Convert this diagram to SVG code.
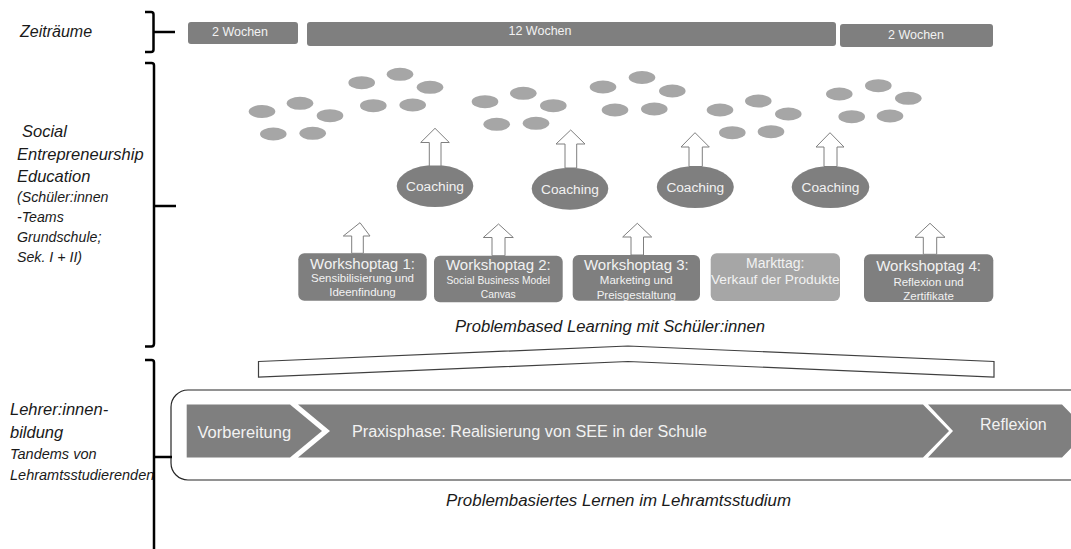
<svg xmlns="http://www.w3.org/2000/svg" width="1071" height="549" viewBox="0 0 1071 549">
<style>
.lbl{font-family:"Liberation Sans",Arial,sans-serif;font-style:italic;fill:#1a1a1a}
.wt{font-family:"Liberation Sans",Arial,sans-serif;fill:#f2f2f2}
.bar{fill:#7f7f7f}
.dot{fill:#a6a6a6}
.dk{fill:#7f7f7f}
.lt{fill:#a6a6a6}
.barr{fill:#ffffff;stroke:#7f7f7f;stroke-width:1}
.brk{fill:none;stroke:#000;stroke-width:2.5;stroke-linejoin:round}
</style>
<rect width="1071" height="549" fill="#ffffff"/>

<!-- left labels -->
<g id="label-zeitraeume">
<text class="lbl" x="20" y="37" font-size="16">Zeiträume</text>
</g>
<g id="label-see">
<text class="lbl" x="22" y="137" font-size="16.5">Social</text>
<text class="lbl" x="17" y="160" font-size="16.5">Entrepreneurship</text>
<text class="lbl" x="17" y="182" font-size="16.5">Education</text>
<text class="lbl" x="17" y="202" font-size="14.2">(Schüler:innen</text>
<text class="lbl" x="17" y="222" font-size="14.2">-Teams</text>
<text class="lbl" x="17" y="242" font-size="14.2">Grundschule;</text>
<text class="lbl" x="17" y="262" font-size="14.2">Sek. I + II)</text>
</g>
<g id="label-lehrer">
<text class="lbl" x="10" y="415" font-size="16.5">Lehrer:innen-</text>
<text class="lbl" x="10" y="438" font-size="16.5">bildung</text>
<text class="lbl" x="10" y="459" font-size="14.5">Tandems von</text>
<text class="lbl" x="10" y="480" font-size="14.5">Lehramtsstudierenden</text>
</g>

<!-- time bars -->
<g id="bar-1">
<rect class="bar" x="188" y="22" width="110" height="22" rx="3"/>
<text class="wt" x="240" y="36" font-size="12.5" text-anchor="middle">2 Wochen</text>
</g>
<g id="bar-2">
<rect class="bar" x="307" y="22" width="529" height="24" rx="3"/>
<text class="wt" x="540" y="35" font-size="12.5" text-anchor="middle">12 Wochen</text>
</g>
<g id="bar-3">
<rect class="bar" x="840" y="24" width="153" height="23" rx="3"/>
<text class="wt" x="916" y="39" font-size="12.5" text-anchor="middle">2 Wochen</text>
</g>

<!-- team clusters -->
<g id="teams-1">
<ellipse class="dot" cx="262" cy="111.5" rx="13.3" ry="6.5"/>
<ellipse class="dot" cx="300" cy="103.3" rx="13.3" ry="6.5"/>
<ellipse class="dot" cx="330" cy="115.7" rx="13.3" ry="6.5"/>
<ellipse class="dot" cx="273.3" cy="134" rx="13.3" ry="6.5"/>
<ellipse class="dot" cx="312.7" cy="133.3" rx="13.3" ry="6.5"/>
</g>
<g id="teams-2">
<ellipse class="dot" cx="361.7" cy="82.7" rx="13.3" ry="6.5"/>
<ellipse class="dot" cx="400" cy="74.3" rx="13.3" ry="6.5"/>
<ellipse class="dot" cx="430" cy="87.3" rx="13.3" ry="6.5"/>
<ellipse class="dot" cx="373.3" cy="105.7" rx="13.3" ry="6.5"/>
<ellipse class="dot" cx="412.7" cy="105" rx="13.3" ry="6.5"/>
</g>
<g id="teams-3">
<ellipse class="dot" cx="485" cy="101.7" rx="13.3" ry="6.5"/>
<ellipse class="dot" cx="523.3" cy="93.3" rx="13.3" ry="6.5"/>
<ellipse class="dot" cx="553.3" cy="105.7" rx="13.3" ry="6.5"/>
<ellipse class="dot" cx="496.7" cy="124.3" rx="13.3" ry="6.5"/>
<ellipse class="dot" cx="536" cy="123.3" rx="13.3" ry="6.5"/>
</g>
<g id="teams-4">
<ellipse class="dot" cx="603" cy="87" rx="13.3" ry="6.5"/>
<ellipse class="dot" cx="642" cy="77.5" rx="13.3" ry="6.5"/>
<ellipse class="dot" cx="672.3" cy="91" rx="13.3" ry="6.5"/>
<ellipse class="dot" cx="615" cy="110" rx="13.3" ry="6.5"/>
<ellipse class="dot" cx="654.3" cy="109" rx="13.3" ry="6.5"/>
</g>
<g id="teams-5">
<ellipse class="dot" cx="720" cy="110" rx="13.3" ry="6.5"/>
<ellipse class="dot" cx="758.3" cy="101" rx="13.3" ry="6.5"/>
<ellipse class="dot" cx="788.3" cy="114" rx="13.3" ry="6.5"/>
<ellipse class="dot" cx="732.3" cy="132.7" rx="13.3" ry="6.5"/>
<ellipse class="dot" cx="771" cy="131.7" rx="13.3" ry="6.5"/>
</g>
<g id="teams-6">
<ellipse class="dot" cx="839.3" cy="94" rx="13.3" ry="6.5"/>
<ellipse class="dot" cx="878.3" cy="85.7" rx="13.3" ry="6.5"/>
<ellipse class="dot" cx="908.3" cy="98.3" rx="13.3" ry="6.5"/>
<ellipse class="dot" cx="851.7" cy="116.7" rx="13.3" ry="6.5"/>
<ellipse class="dot" cx="890" cy="116" rx="13.3" ry="6.5"/>
</g>

<!-- coaching -->
<g id="coaching-1">
<ellipse class="dk" cx="435" cy="186" rx="38.3" ry="21"/>
<text class="wt" x="435" y="191" font-size="13.7" text-anchor="middle">Coaching</text>
</g>
<g id="coaching-2">
<ellipse class="dk" cx="570" cy="188.7" rx="38.3" ry="21"/>
<text class="wt" x="570" y="193.7" font-size="13.7" text-anchor="middle">Coaching</text>
</g>
<g id="coaching-3">
<ellipse class="dk" cx="695.3" cy="187" rx="38.5" ry="21"/>
<text class="wt" x="695.3" y="192" font-size="13.7" text-anchor="middle">Coaching</text>
</g>
<g id="coaching-4">
<ellipse class="dk" cx="830.5" cy="187" rx="38.8" ry="21"/>
<text class="wt" x="830.5" y="192" font-size="13.7" text-anchor="middle">Coaching</text>
</g>

<!-- workshop boxes -->
<g id="ws-1">
<rect class="dk" x="298.3" y="253.3" width="128.4" height="47.4" rx="6"/>
<text class="wt" x="362.5" y="268.5" font-size="15" text-anchor="middle">Workshoptag 1:</text>
<text class="wt" x="362.5" y="282" font-size="11.5" text-anchor="middle">Sensibilisierung und</text>
<text class="wt" x="362.5" y="296" font-size="11.5" text-anchor="middle">Ideenfindung</text>
</g>
<g id="ws-2">
<rect class="dk" x="434" y="255.7" width="128.7" height="46.6" rx="6"/>
<text class="wt" x="498.3" y="270" font-size="15" text-anchor="middle">Workshoptag 2:</text>
<text class="wt" x="498.3" y="284" font-size="10.3" text-anchor="middle">Social Business Model</text>
<text class="wt" x="498.3" y="297.5" font-size="10.3" text-anchor="middle">Canvas</text>
</g>
<g id="ws-3">
<rect class="dk" x="572.7" y="255" width="127.3" height="45.7" rx="6"/>
<text class="wt" x="636.3" y="270" font-size="15" text-anchor="middle">Workshoptag 3:</text>
<text class="wt" x="636.3" y="284" font-size="11.5" text-anchor="middle">Marketing und</text>
<text class="wt" x="636.3" y="298.5" font-size="11.5" text-anchor="middle">Preisgestaltung</text>
</g>
<g id="markttag">
<rect class="lt" x="710.7" y="253.3" width="129.3" height="47.7" rx="6"/>
<text class="wt" x="775.3" y="267.5" font-size="14" text-anchor="middle">Markttag:</text>
<text class="wt" x="775.3" y="283.5" font-size="13.7" text-anchor="middle">Verkauf der Produkte</text>
</g>
<g id="ws-4">
<rect class="dk" x="864" y="254.3" width="129.3" height="47.7" rx="6"/>
<text class="wt" x="928.6" y="271" font-size="15" text-anchor="middle">Workshoptag 4:</text>
<text class="wt" x="928.6" y="285.5" font-size="11.5" text-anchor="middle">Reflexion und</text>
<text class="wt" x="928.6" y="300" font-size="11.5" text-anchor="middle">Zertifikate</text>
</g>

<g id="label-pbl">
<text class="lbl" x="455" y="332" font-size="16" textLength="310" lengthAdjust="spacingAndGlyphs">Problembased Learning mit Schüler:innen</text>
</g>

<!-- roof shape -->
<g id="roof">
<path d="M258.5,361.5 L628,346 L994,361.5 L994,377 L628,361.5 L258.5,377 Z" fill="#ffffff" stroke="#404040" stroke-width="1.2" stroke-linejoin="miter"/>
</g>

<!-- teacher education frame -->
<g id="lehrer-frame">
<rect x="171" y="390" width="920" height="90" rx="17" fill="#ffffff" stroke="#262626" stroke-width="1.2"/>
</g>
<g id="phase-vorbereitung">
<path class="dk" d="M186.7,404.5 L290,404.5 L322,431 L290,457.5 L186.7,457.5 Z"/>
<text class="wt" x="197.5" y="437.5" font-size="16.5">Vorbereitung</text>
</g>
<g id="phase-praxis">
<path class="dk" d="M298,404.5 L923,404.5 L949,431 L923,457.5 L298,457.5 L330,431 Z"/>
<text class="wt" x="352" y="436.5" font-size="16" textLength="355" lengthAdjust="spacingAndGlyphs">Praxisphase: Realisierung von SEE in der Schule</text>
</g>
<g id="phase-reflexion">
<path class="dk" d="M928,404.5 L1062,404.5 L1088,431 L1062,457.5 L928,457.5 L953,431 Z"/>
<text class="wt" x="980" y="430" font-size="16">Reflexion</text>
</g>

<g id="label-pbl-lehramt">
<text class="lbl" x="446" y="506" font-size="16" textLength="345" lengthAdjust="spacingAndGlyphs">Problembasiertes Lernen im Lehramtsstudium</text>
</g>

<!-- connectors: block arrows and brackets -->
<g id="connectors">
<path class="barr" d="M435,128.3 L449.3,142.5 L441,142.5 L441,166 L429.3,166 L429.3,142.5 L420.7,142.5 Z"/>
<path class="barr" d="M570.7,130 L585,144 L576.7,144 L576.7,168 L565,168 L565,144 L556,144 Z"/>
<path class="barr" d="M695,132.7 L709.3,147 L702.3,147 L702.3,166.5 L689,166.5 L689,147 L681,147 Z"/>
<path class="barr" d="M830,132.7 L844,147 L837,147 L837,166.5 L824,166.5 L824,147 L816,147 Z"/>
<path class="barr" d="M360,222.7 L370,236 L363.3,236 L363.3,253.3 L351.7,253.3 L351.7,236 L343.3,236 Z"/>
<path class="barr" d="M498.5,224 L513.3,237.5 L505,237.5 L505,255.7 L492,255.7 L492,237.5 L483.3,237.5 Z"/>
<path class="barr" d="M637.3,223.3 L651.7,237 L643.5,237 L643.5,255 L631,255 L631,237 L622.7,237 Z"/>
<path class="barr" d="M930,223.3 L945,237.3 L936.7,237.3 L936.7,254.3 L923.3,254.3 L923.3,237.3 L915,237.3 Z"/>

<path class="brk" d="M145,12 H151 Q153.5,12 153.5,14.5 V49.5 Q153.5,52 151,52 H145"/>
<path class="brk" d="M153.5,32 H175"/>
<path class="brk" d="M145,63 H151.5 Q154,63 154,65.5 V343.5 Q154,346.5 151.5,346.5 H145"/>
<path class="brk" d="M154,206 H176"/>
<path class="brk" d="M145,360 H151.5 Q154,360 154,362.5 V549"/>
<path class="brk" d="M154,457 H172"/>
</g>
</svg>
